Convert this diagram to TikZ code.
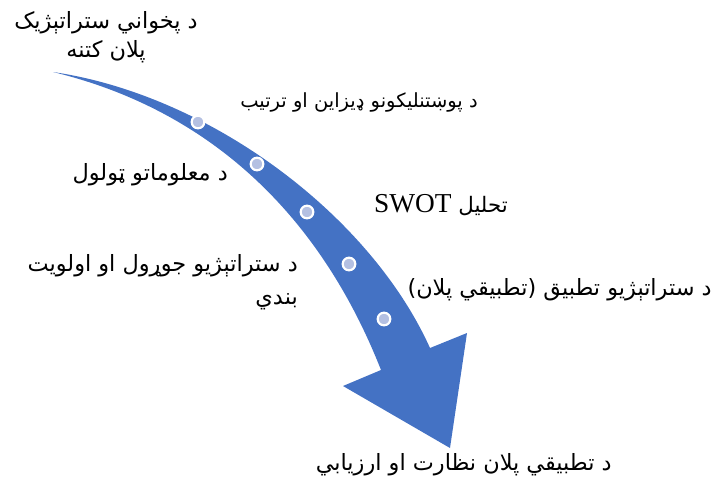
\documentclass[tikz,border=0pt]{standalone}
\usepackage{fontspec}
\setmainfont{Liberation Serif}
\newfontfamily\pashto[Script=Arabic]{DejaVu Sans}
\TeXXeTstate=1
\definecolor{arrowblue}{HTML}{4472C4}
\definecolor{dotblue}{HTML}{B4C0E2}
\begin{document}
\begin{tikzpicture}[x=0.75pt,y=-0.75pt,
   lbl/.style={font=\pashto\fontsize{16.8}{22}\selectfont,inner sep=0pt},
   dot/.style={circle,draw=white,line width=1.6pt,fill=dotblue,minimum size=9.5pt,inner sep=0pt}]
\useasboundingbox (0,0) rectangle (717,479);
% curved arrow
\fill[arrowblue] (53,72) .. controls (210,95) and (370,215) .. (430,348)
   -- (467,333) -- (450,448) -- (343,386) -- (381,370)
   .. controls (320,215) and (210,110) .. (53,72) -- cycle;
\foreach[count=\k] \p in {(198,122),(257,164),(307,212),(349,264),(384,319)}
   \node[dot] (d\k) at \p {};
% labels
\node[lbl,align=center] (l1) at (106,37) {\beginR د پخواني ستراتېژيک\endR\\\beginR پلان کتنه\endR};
\node[lbl,font=\pashto\fontsize{14.6}{18}\selectfont,anchor=east] (l2) at (478,102) {\beginR د پوښتنليکونو ډيزاين او ترتيب\endR};
\node[lbl,anchor=east] (l3) at (228,175) {\beginR د معلوماتو ټولول\endR};
\node[font=\fontsize{20.5}{24}\selectfont,inner sep=0pt,anchor=east] (l4) at (508,205) {\beginR{\pashto\fontsize{16}{20}\selectfont تحليل} \beginL SWOT\endL\endR};
\node[lbl,align=right,anchor=east,font=\pashto\fontsize{16.8}{25}\selectfont] (l5) at (298,282) {\beginR د ستراتېژيو جوړول او اولويت\endR\\\beginR بندي\endR};
\node[lbl,anchor=east] (l6) at (712,290) {\beginR د ستراتېژيو تطبيق (تطبيقي پلان)\endR};
\node[lbl,anchor=east] (l7) at (612,465) {\beginR د تطبيقي پلان نظارت او ارزيابي\endR};
\end{tikzpicture}
\end{document}
